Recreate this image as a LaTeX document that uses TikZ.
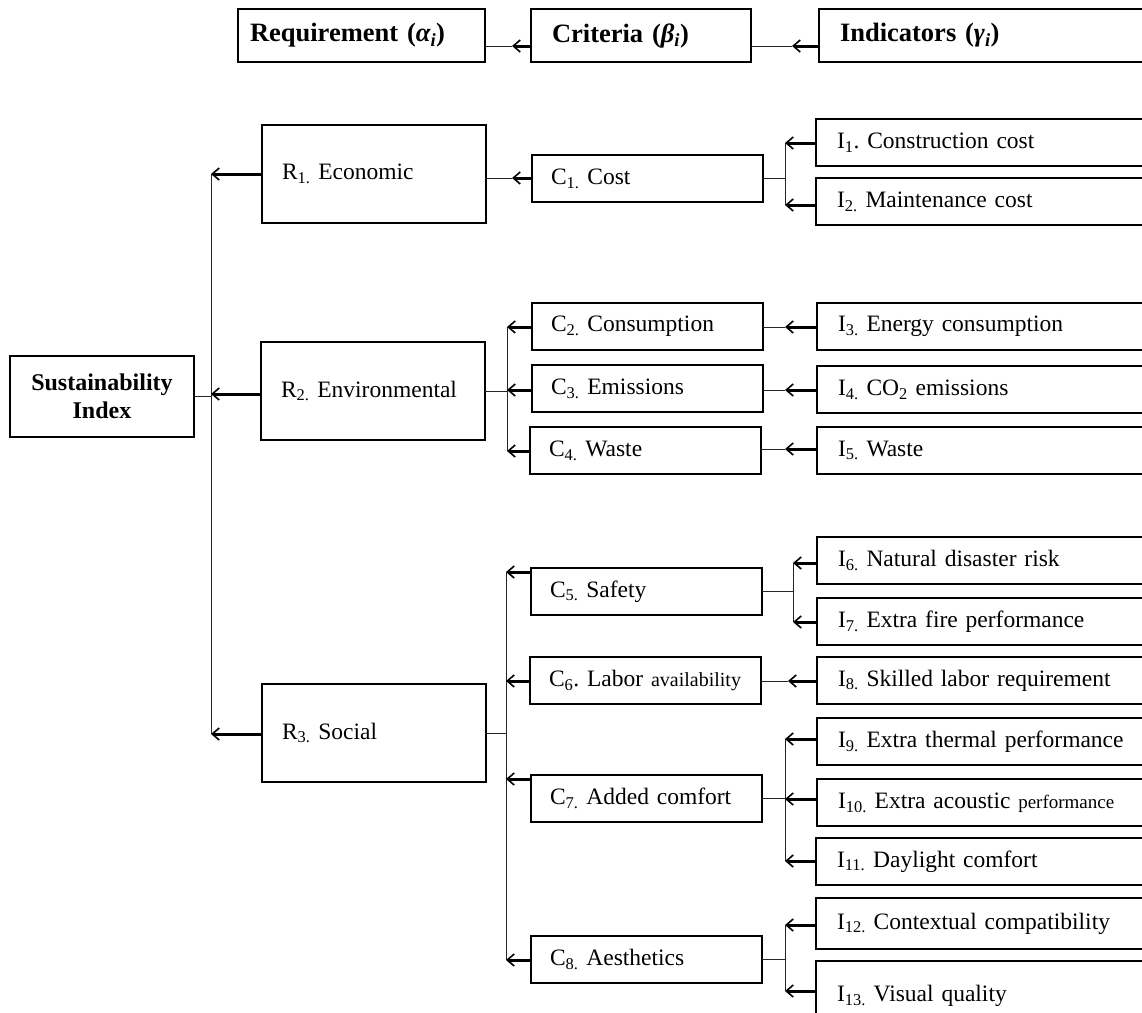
\documentclass[tikz,border=0pt]{standalone}
\usepackage{fontspec}
\setmainfont{Liberation Serif}
\usetikzlibrary{arrows.meta}
\frenchspacing
\begin{document}
\begin{tikzpicture}[x=1pt,y=-1pt,
  every node/.style={inner sep=0pt,outer sep=0pt},
  bx/.style={draw=black,line width=1.3pt,anchor=north west,align=left,inner ysep=0pt,
     font=\fontsize{23.5}{28}\selectfont\frenchspacing},
  hbox/.style={bx,minimum height=53pt,font=\fontsize{26.5}{30}\selectfont\bfseries\frenchspacing},
  rbox/.style={bx,text width=184pt,inner xsep=20pt,minimum height=98pt},
  cbox/.style={bx,text width=193pt,inner xsep=19pt,minimum height=47pt},
  ibox/.style={bx,text width=330pt,inner xsep=21pt,minimum height=47pt},
  arr/.style={line width=3pt,-{Straight Barb[length=7pt,width=12pt,line width=1.6pt]}},
  ln/.style={line width=1pt,draw=black!85}]
\useasboundingbox (0,0) rectangle (1142,1012);
\clip (0,0) rectangle (1142,1012);

% header
\node[hbox,text width=223pt,inner xsep=12pt] (hreq) at (238,9) {Requirement (\textit{α\textsubscript{i}})};
\node[hbox,text width=178pt,inner xsep=21pt] (hcri) at (531,9) {Criteria (\textit{β\textsubscript{i}})};
\node[hbox,text width=350pt,inner xsep=21pt] (hind) at (819,9) {Indicators (\textit{γ\textsubscript{i}})};
\coordinate (ha1) at (512,46);
\coordinate (ha2) at (792,46);
\draw[arr] (ha1 -| hcri.west) -- (ha1);
\draw[ln] (ha1) -- (ha1 -| hreq.east);
\draw[arr] (ha2 -| hind.west) -- (ha2);
\draw[ln] (ha2) -- (ha2 -| hcri.east);

% root
\node[draw=black,line width=1.3pt,anchor=north west,minimum width=184pt,minimum height=81pt,
  align=center,font=\fontsize{24}{28}\selectfont\bfseries] (si) at (10,356) {Sustainability\\Index};

% requirements
\node[rbox] (R1) at (262,125) {R\textsubscript{1.} Economic};
\node[rbox] (R2) at (261,342) {R\textsubscript{2.} Environmental};
\node[rbox] (R3) at (262,684) {R\textsubscript{3.} Social};
\coordinate (aR1) at (211,174);
\coordinate (aR2) at (211,394);
\coordinate (aR3) at (211,734);
\draw[ln] (aR1) -- (aR3);
\draw[ln] (si.east) -- (si.east -| aR1);
\draw[arr] (aR1 -| R1.west) -- (aR1);
\draw[arr] (aR2 -| R2.west) -- (aR2);
\draw[arr] (aR3 -| R3.west) -- (aR3);

% criteria
\node[cbox] (C1) at (532,155) {C\textsubscript{1.} Cost};
\node[cbox] (C2) at (532,303) {C\textsubscript{2.} Consumption};
\node[cbox] (C3) at (532,365) {C\textsubscript{3.} Emissions};
\node[cbox] (C4) at (530,427) {C\textsubscript{4.} Waste};
\node[cbox] (C5) at (531,568) {C\textsubscript{5.} Safety};
\node[cbox] (C6) at (530,657) {C\textsubscript{6}. Labor {\fontsize{20}{24}\selectfont availability}};
\node[cbox] (C7) at (531,775) {C\textsubscript{7.} Added comfort};
\node[cbox] (C8) at (531,936) {C\textsubscript{8.} Aesthetics};

% R1 -> C1
\coordinate (aC1) at (512,178);
\draw[arr] (aC1 -| C1.west) -- (aC1);
\draw[ln] (aC1) -- (aC1 -| R1.east);

% R2 -> C2..C4
\coordinate (aC2) at (507,327);
\coordinate (aC3) at (507,390);
\coordinate (aC4) at (507,451);
\draw[ln] (aC2) -- (aC4);
\draw[ln] (R2.east) -- (R2.east -| aC2);
\draw[arr] (aC2 -| C2.west) -- (aC2);
\draw[arr] (aC3 -| C3.west) -- (aC3);
\draw[arr] (aC4 -| C4.west) -- (aC4);

% R3 -> C5..C8
\coordinate (aC5) at (506,572);
\coordinate (aC6) at (506,681);
\coordinate (aC7) at (506,779);
\coordinate (aC8) at (506,960);
\draw[ln] (aC5) -- (aC8);
\draw[ln] (R3.east) -- (R3.east -| aC5);
\draw[arr] (aC5 -| C5.west) -- (aC5);
\draw[arr] (aC6 -| C6.west) -- (aC6);
\draw[arr] (aC7 -| C7.west) -- (aC7);
\draw[arr] (aC8 -| C8.west) -- (aC8);

% indicators
\node[ibox] (I1) at (816,119) {I\textsubscript{1}. Construction cost};
\node[ibox] (I2) at (816,178) {I\textsubscript{2.} Maintenance cost};
\node[ibox] (I3) at (817,303) {I\textsubscript{3.} Energy consumption};
\node[ibox] (I4) at (817,366) {I\textsubscript{4.} CO\textsubscript{2} emissions};
\node[ibox] (I5) at (817,427) {I\textsubscript{5.} Waste};
\node[ibox] (I6) at (817,537) {I\textsubscript{6.} Natural disaster risk};
\node[ibox] (I7) at (817,598) {I\textsubscript{7.} Extra fire performance};
\node[ibox] (I8) at (817,657) {I\textsubscript{8.} Skilled labor requirement};
\node[ibox] (I9) at (817,718) {I\textsubscript{9.} Extra thermal performance};
\node[ibox] (I10) at (817,779) {I\textsubscript{10.} Extra acoustic {\fontsize{19}{24}\selectfont performance}};
\node[ibox] (I11) at (816,838) {I\textsubscript{11.} Daylight comfort};
\node[ibox,minimum height=51pt] (I12) at (816,898) {I\textsubscript{12.} Contextual compatibility};
\node[ibox,minimum height=70pt] (I13) at (816,961) {I\textsubscript{13.} Visual quality};

% C1 -> I1, I2
\coordinate (aI1) at (785,143);
\coordinate (aI2) at (785,205);
\draw[ln] (aI1) -- (aI2);
\draw[ln] (C1.east) -- (C1.east -| aI1);
\draw[arr] (aI1 -| I1.west) -- (aI1);
\draw[arr] (aI2 -| I2.west) -- (aI2);

% C2..C4 -> I3..I5
\coordinate (aI3) at (785,327);
\coordinate (aI4) at (785,390);
\coordinate (aI5) at (785,449);
\draw[arr] (aI3 -| I3.west) -- (aI3);
\draw[ln] (aI3) -- (aI3 -| C2.east);
\draw[arr] (aI4 -| I4.west) -- (aI4);
\draw[ln] (aI4) -- (aI4 -| C3.east);
\draw[arr] (aI5 -| I5.west) -- (aI5);
\draw[ln] (aI5) -- (aI5 -| C4.east);

% C5 -> I6, I7
\coordinate (aI6) at (793,563);
\coordinate (aI7) at (793,622);
\draw[ln] (aI6) -- (aI7);
\draw[ln] (C5.east) -- (C5.east -| aI6);
\draw[arr] (aI6 -| I6.west) -- (aI6);
\draw[arr] (aI7 -| I7.west) -- (aI7);

% C6 -> I8
\coordinate (aI8) at (788,681);
\draw[arr] (aI8 -| I8.west) -- (aI8);
\draw[ln] (aI8) -- (aI8 -| C6.east);

% C7 -> I9..I11
\coordinate (aI9) at (785,739);
\coordinate (aI10) at (785,799);
\coordinate (aI11) at (785,861);
\draw[ln] (aI9) -- (aI11);
\draw[ln] (C7.east) -- (C7.east -| aI9);
\draw[arr] (aI9 -| I9.west) -- (aI9);
\draw[arr] (aI10 -| I10.west) -- (aI10);
\draw[arr] (aI11 -| I11.west) -- (aI11);

% C8 -> I12, I13
\coordinate (aI12) at (785,925);
\coordinate (aI13) at (785,991);
\draw[ln] (aI12) -- (aI13);
\draw[ln] (C8.east) -- (C8.east -| aI12);
\draw[arr] (aI12 -| I12.west) -- (aI12);
\draw[arr] (aI13 -| I13.west) -- (aI13);
\end{tikzpicture}
\end{document}
